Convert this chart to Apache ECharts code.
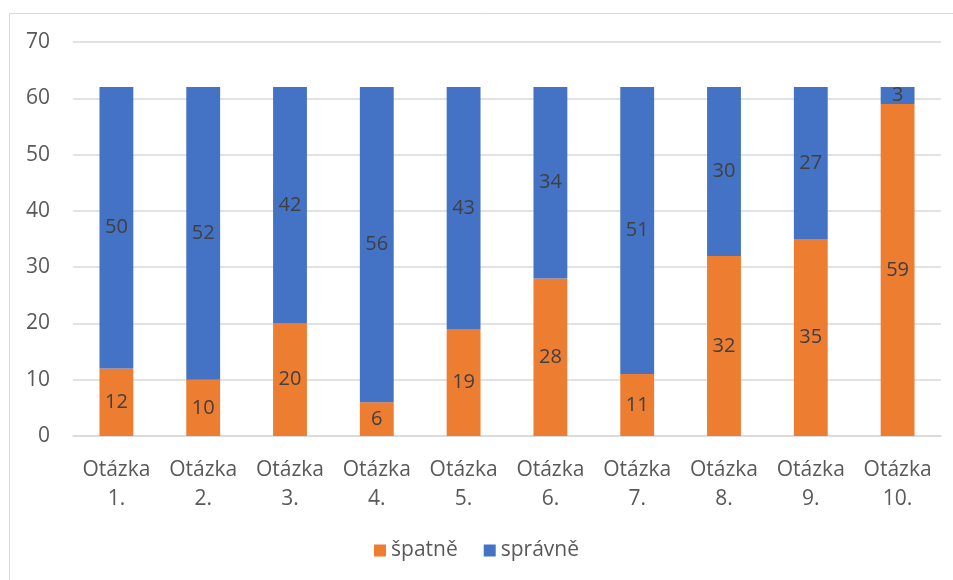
<!DOCTYPE html>
<html>
<head>
<meta charset="utf-8">
<script src="https://cdn.jsdelivr.net/npm/echarts@6/dist/echarts.min.js"></script>
<style>
  html, body { margin: 0; padding: 0; background: #fff; }
  #chart { width: 953px; height: 580px; }
</style>
</head>
<body>
<div id="chart"></div>
<script>
var categories = ['Otázka\n1.', 'Otázka\n2.', 'Otázka\n3.', 'Otázka\n4.', 'Otázka\n5.',
  'Otázka\n6.', 'Otázka\n7.', 'Otázka\n8.', 'Otázka\n9.', 'Otázka\n10.']
var spatne = [12, 10, 20, 6, 19, 28, 11, 32, 35, 59]
var spravne = [50, 52, 42, 56, 43, 34, 51, 30, 27, 3]

var chart = echarts.init(document.getElementById('chart'))
var font = 'Open Sans, Noto Sans, sans-serif'

var labelStyle = {
  show: true,
  position: 'inside',
  color: '#404040',
  fontSize: 20,
  fontFamily: font
}

var option = {
  animation: false,
  textStyle: { fontFamily: font },
  // ramecek kolem grafu
  graphic: [{
    type: 'rect',
    shape: { x: 9.5, y: 13.5, width: 1000, height: 700 },
    style: { fill: 'none', stroke: '#d9d9d9', lineWidth: 1 },
    silent: true
  }],
  grid: { left: 73, right: 12, top: 42, bottom: 144 },
  legend: {
    bottom: 14,
    left: 'center',
    itemWidth: 12,
    itemHeight: 12,
    itemGap: 26,
    icon: 'rect',
    textStyle: { color: '#595959', fontSize: 21, fontFamily: font },
    data: ['špatně', 'správně']
  },
  xAxis: {
    type: 'category',
    data: categories,
    axisLine: { lineStyle: { color: '#d9d9d9', width: 1.5 } },
    axisTick: { show: false },
    axisLabel: {
      color: '#595959',
      fontSize: 21,
      lineHeight: 29,
      margin: 20,
      interval: 0
    }
  },
  yAxis: {
    type: 'value',
    min: 0,
    max: 70,
    interval: 10,
    axisLine: { show: false },
    axisTick: { show: false },
    axisLabel: { color: '#595959', fontSize: 21, margin: 23 },
    splitLine: { lineStyle: { color: '#d9d9d9', width: 1.5 } }
  },
  series: [
    {
      name: 'špatně',
      type: 'bar',
      stack: 'x',
      barWidth: '39%',
      itemStyle: { color: '#ED7D31' },
      label: labelStyle,
      data: spatne
    },
    {
      name: 'správně',
      type: 'bar',
      stack: 'x',
      barWidth: '39%',
      itemStyle: { color: '#4472C4' },
      label: labelStyle,
      data: spravne
    }
  ]
}
option && chart.setOption(option)
</script>
</body>
</html>
